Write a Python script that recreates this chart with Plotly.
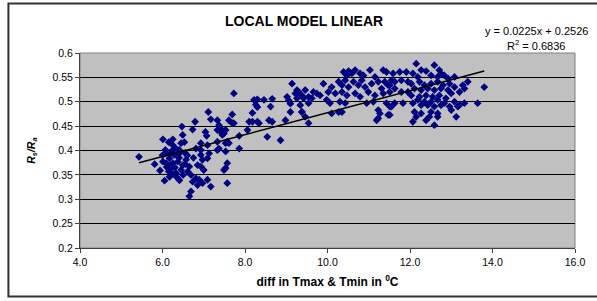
import plotly.graph_objects as go

# ---- data ----
diff_t = [
    5.43, 5.81, 5.94, 6.05, 6.21, 6.25, 6.17, 6.15, 6.41, 6.33, 6.45, 6.49, 6.37, 6.57, 6.65, 6.61, 6.69,
    6.17, 6.29, 6.41, 6.09, 6.93, 7.13, 7.09, 6.97, 6.93, 6.73, 6.85, 6.89, 6.97, 7.09, 6.81, 6.69, 6.65,
    7.17, 6.09, 6.01, 6.25, 6.20, 6.30, 6.55, 6.40, 6.10, 6.35, 6.50, 6.60, 6.75, 6.85, 7.00, 6.20, 6.55, 6.00,
    7.11, 7.17, 6.79, 6.73, 6.47, 7.04, 7.07, 6.01, 6.25, 6.15, 6.49, 6.53, 6.45, 6.25, 6.33, 6.81, 6.93,
    7.33, 7.33, 7.09, 6.07, 6.25, 6.41, 6.93, 7.61, 7.53, 7.37, 7.57, 7.53, 7.49, 7.57,
    7.73, 9.14, 8.22, 8.30, 8.46, 8.66, 8.26, 8.30, 8.62, 8.18, 7.69, 9.02, 9.06, 9.22, 9.26, 9.34, 9.10,
    9.38, 9.26, 9.10, 8.10, 8.18, 8.30, 8.34, 8.58, 8.66, 8.98, 7.33, 7.37, 7.41, 7.61, 7.69, 7.73, 7.41,
    7.49, 7.45, 7.53, 7.33, 8.06, 7.86, 7.57, 7.53, 8.54, 8.86, 7.86,
    10.39, 10.51, 10.67, 11.03, 11.35, 11.43, 10.47, 10.59, 10.79, 10.87, 11.15, 9.90, 10.10, 10.27, 10.35,
    10.43, 10.51, 10.63, 10.75, 10.83, 10.91, 11.07, 11.23, 11.39, 11.47, 11.31, 11.55, 9.30, 9.38, 9.46,
    9.54, 9.66, 9.74, 9.42, 9.62, 9.82, 10.02, 10.19, 10.35, 10.47, 10.67, 10.79, 10.99, 11.15, 11.35, 11.51,
    9.54, 9.98, 10.06, 10.30, 10.43, 10.95, 11.11, 10.27, 9.38, 9.46, 9.54, 10.10, 10.35, 11.23, 11.27,
    11.23, 11.47, 11.19, 11.43, 11.51,
    12.15, 12.59, 12.27, 12.39, 12.71, 12.75, 11.75, 11.91, 11.59, 12.07, 12.51, 12.67, 12.83, 12.92, 13.08,
    13.40, 12.19, 11.79, 11.63, 11.95, 11.51, 12.03, 12.23, 12.35, 12.51, 12.67, 12.80, 12.96, 13.08, 13.28,
    13.32, 12.11, 12.27, 12.43, 12.59, 12.75, 12.92, 13.00, 13.20, 11.95, 11.79, 11.63, 12.03, 12.23, 12.39,
    12.55, 12.71, 12.87, 12.19, 12.35, 12.51, 12.67, 12.83, 13.08, 13.32, 13.64, 13.80, 12.07, 12.27, 12.43,
    12.59, 12.75, 12.96, 13.20, 11.83, 11.63, 11.55, 12.11, 12.27, 12.51, 12.67, 13.00, 13.16, 11.51, 12.15,
    12.47, 12.67, 13.12, 12.59, 12.07, 12.39,
]
rs_ra = [
    0.387, 0.372, 0.359, 0.338, 0.364, 0.352, 0.346, 0.357, 0.339, 0.353, 0.360, 0.370, 0.377, 0.381, 0.367, 0.357, 0.350,
    0.384, 0.391, 0.394, 0.394, 0.391, 0.394, 0.384, 0.381, 0.367, 0.336, 0.329, 0.340, 0.333, 0.340, 0.343, 0.316, 0.306,
    0.326, 0.374, 0.377, 0.374, 0.370, 0.365, 0.372, 0.385, 0.366, 0.345, 0.350, 0.390, 0.385, 0.370, 0.360, 0.395, 0.395, 0.390,
    0.479, 0.464, 0.459, 0.443, 0.449, 0.438, 0.430, 0.423, 0.423, 0.417, 0.432, 0.417, 0.415, 0.411, 0.404, 0.404, 0.401,
    0.418, 0.401, 0.411, 0.401, 0.401, 0.401, 0.415, 0.415, 0.398, 0.404, 0.374, 0.364, 0.360, 0.333,
    0.517, 0.537, 0.504, 0.505, 0.504, 0.506, 0.494, 0.489, 0.490, 0.477, 0.474, 0.510, 0.503, 0.517, 0.507, 0.493, 0.496,
    0.479, 0.524, 0.479, 0.459, 0.459, 0.459, 0.456, 0.462, 0.459, 0.462, 0.462, 0.452, 0.445, 0.462, 0.456, 0.456, 0.438,
    0.435, 0.432, 0.442, 0.442, 0.442, 0.430, 0.418, 0.415, 0.428, 0.421, 0.404,
    0.561, 0.563, 0.565, 0.565, 0.565, 0.561, 0.554, 0.558, 0.558, 0.554, 0.551, 0.537, 0.530, 0.541, 0.534,
    0.544, 0.530, 0.541, 0.534, 0.544, 0.530, 0.537, 0.541, 0.541, 0.534, 0.527, 0.544, 0.520, 0.513, 0.524,
    0.510, 0.520, 0.517, 0.507, 0.507, 0.513, 0.520, 0.517, 0.520, 0.513, 0.517, 0.510, 0.520, 0.513, 0.517, 0.520,
    0.497, 0.504, 0.497, 0.500, 0.497, 0.497, 0.500, 0.479, 0.479, 0.469, 0.456, 0.476, 0.479, 0.483, 0.476,
    0.466, 0.473, 0.462, 0.497, 0.490,
    0.578, 0.575, 0.565, 0.563, 0.565, 0.558, 0.561, 0.561, 0.558, 0.558, 0.554, 0.551, 0.554, 0.548, 0.551,
    0.541, 0.551, 0.544, 0.541, 0.541, 0.534, 0.537, 0.541, 0.534, 0.537, 0.541, 0.534, 0.537, 0.530, 0.534,
    0.527, 0.527, 0.524, 0.527, 0.524, 0.527, 0.524, 0.517, 0.520, 0.520, 0.520, 0.527, 0.513, 0.510, 0.513,
    0.510, 0.513, 0.507, 0.504, 0.500, 0.500, 0.504, 0.497, 0.500, 0.497, 0.497, 0.530, 0.497, 0.493, 0.493,
    0.490, 0.493, 0.490, 0.493, 0.497, 0.497, 0.490, 0.479, 0.476, 0.479, 0.476, 0.483, 0.490, 0.473, 0.469,
    0.469, 0.469, 0.469, 0.452, 0.459, 0.462,
]

# trendline shown in the chart label
slope = 0.0225
intercept = 0.2526
trend_x = [min(diff_t), max(diff_t)]
trend_y = [slope * v + intercept for v in trend_x]

y_tickvals = [0.2, 0.25, 0.3, 0.35, 0.4, 0.45, 0.5, 0.55, 0.6]
y_ticktext = ["0.2", "0.25", "0.3", "0.35", "0.4", "0.45", "0.5", "0.55", "0.6"]
x_tickvals = [4, 6, 8, 10, 12, 14, 16]
x_ticktext = ["4.0", "6.0", "8.0", "10.0", "12.0", "14.0", "16.0"]

FONT = "Liberation Sans, Arial, sans-serif"

fig = go.Figure()
fig.add_trace(go.Scatter(
    x=diff_t, y=rs_ra, mode="markers",
    marker=dict(symbol="diamond", size=6, color="#000080", line=dict(width=0)),
    showlegend=False, hoverinfo="skip",
))
fig.add_trace(go.Scatter(
    x=trend_x, y=trend_y, mode="lines",
    line=dict(color="black", width=1.5),
    showlegend=False, hoverinfo="skip",
))

fig.update_layout(
    width=597, height=301,
    margin=dict(l=80, r=19, t=53, b=53),
    paper_bgcolor="white",
    plot_bgcolor="#C0C0C0",
    font=dict(family=FONT, size=10.5, color="black"),
    xaxis=dict(
        range=[4, 16], tickvals=x_tickvals, ticktext=x_ticktext,
        showgrid=False, zeroline=False,
        showline=True, linecolor="#404040", linewidth=1,
        ticks="outside", ticklen=4, tickcolor="#404040",
        tickfont=dict(size=10.5),
        title=dict(text="<b>diff in Tmax &amp; Tmin in <sup>0</sup>C</b>",
                   font=dict(size=12), standoff=11),
    ),
    yaxis=dict(
        range=[0.2, 0.6], tickvals=y_tickvals, ticktext=y_ticktext,
        showgrid=True, gridcolor="black", gridwidth=1, zeroline=False,
        showline=True, linecolor="#404040", linewidth=1,
        ticks="outside", ticklen=4, tickcolor="#404040",
        tickfont=dict(size=10.5),
    ),
    shapes=[
        dict(type="rect", xref="paper", yref="paper", x0=0, y0=0, x1=1, y1=1,
             line=dict(color="#808080", width=1), layer="between"),
        dict(type="rect", xref="paper", yref="paper", x0=-0.1446, y0=-0.249, x1=1.06, y1=1.254,
             line=dict(color="#333333", width=2), layer="above"),
    ],
    annotations=[
        dict(text="<b>LOCAL MODEL LINEAR</b>", xref="paper", yref="paper",
             x=(305 - 80) / 498, y=(248.3 - 21) / 195.6, xanchor="center", yanchor="middle",
             showarrow=False, font=dict(size=14)),
        dict(text="<b><i>R<sub>s</sub>/R<sub>a</sub></i></b>", xref="paper", yref="paper",
             x=(31 - 80) / 498, y=0.5, xanchor="center", yanchor="middle", textangle=-90,
             showarrow=False, font=dict(size=10.5)),
        dict(text="y = 0.0225x + 0.2526", xref="paper", yref="paper",
             x=(539 - 80) / 498, y=(248.3 - 31) / 195.6, xanchor="center", yanchor="middle",
             showarrow=False, font=dict(size=11)),
        dict(text="R<sup>2</sup> = 0.6836", xref="paper", yref="paper",
             x=(539 - 80) / 498, y=(248.3 - 45) / 195.6, xanchor="center", yanchor="middle",
             showarrow=False, font=dict(size=11)),
    ],
)

fig.write_html(
    "out.html",
    config={"displayModeBar": False},
    post_script="document.body.style.margin='0';document.body.style.overflow='hidden';",
)
